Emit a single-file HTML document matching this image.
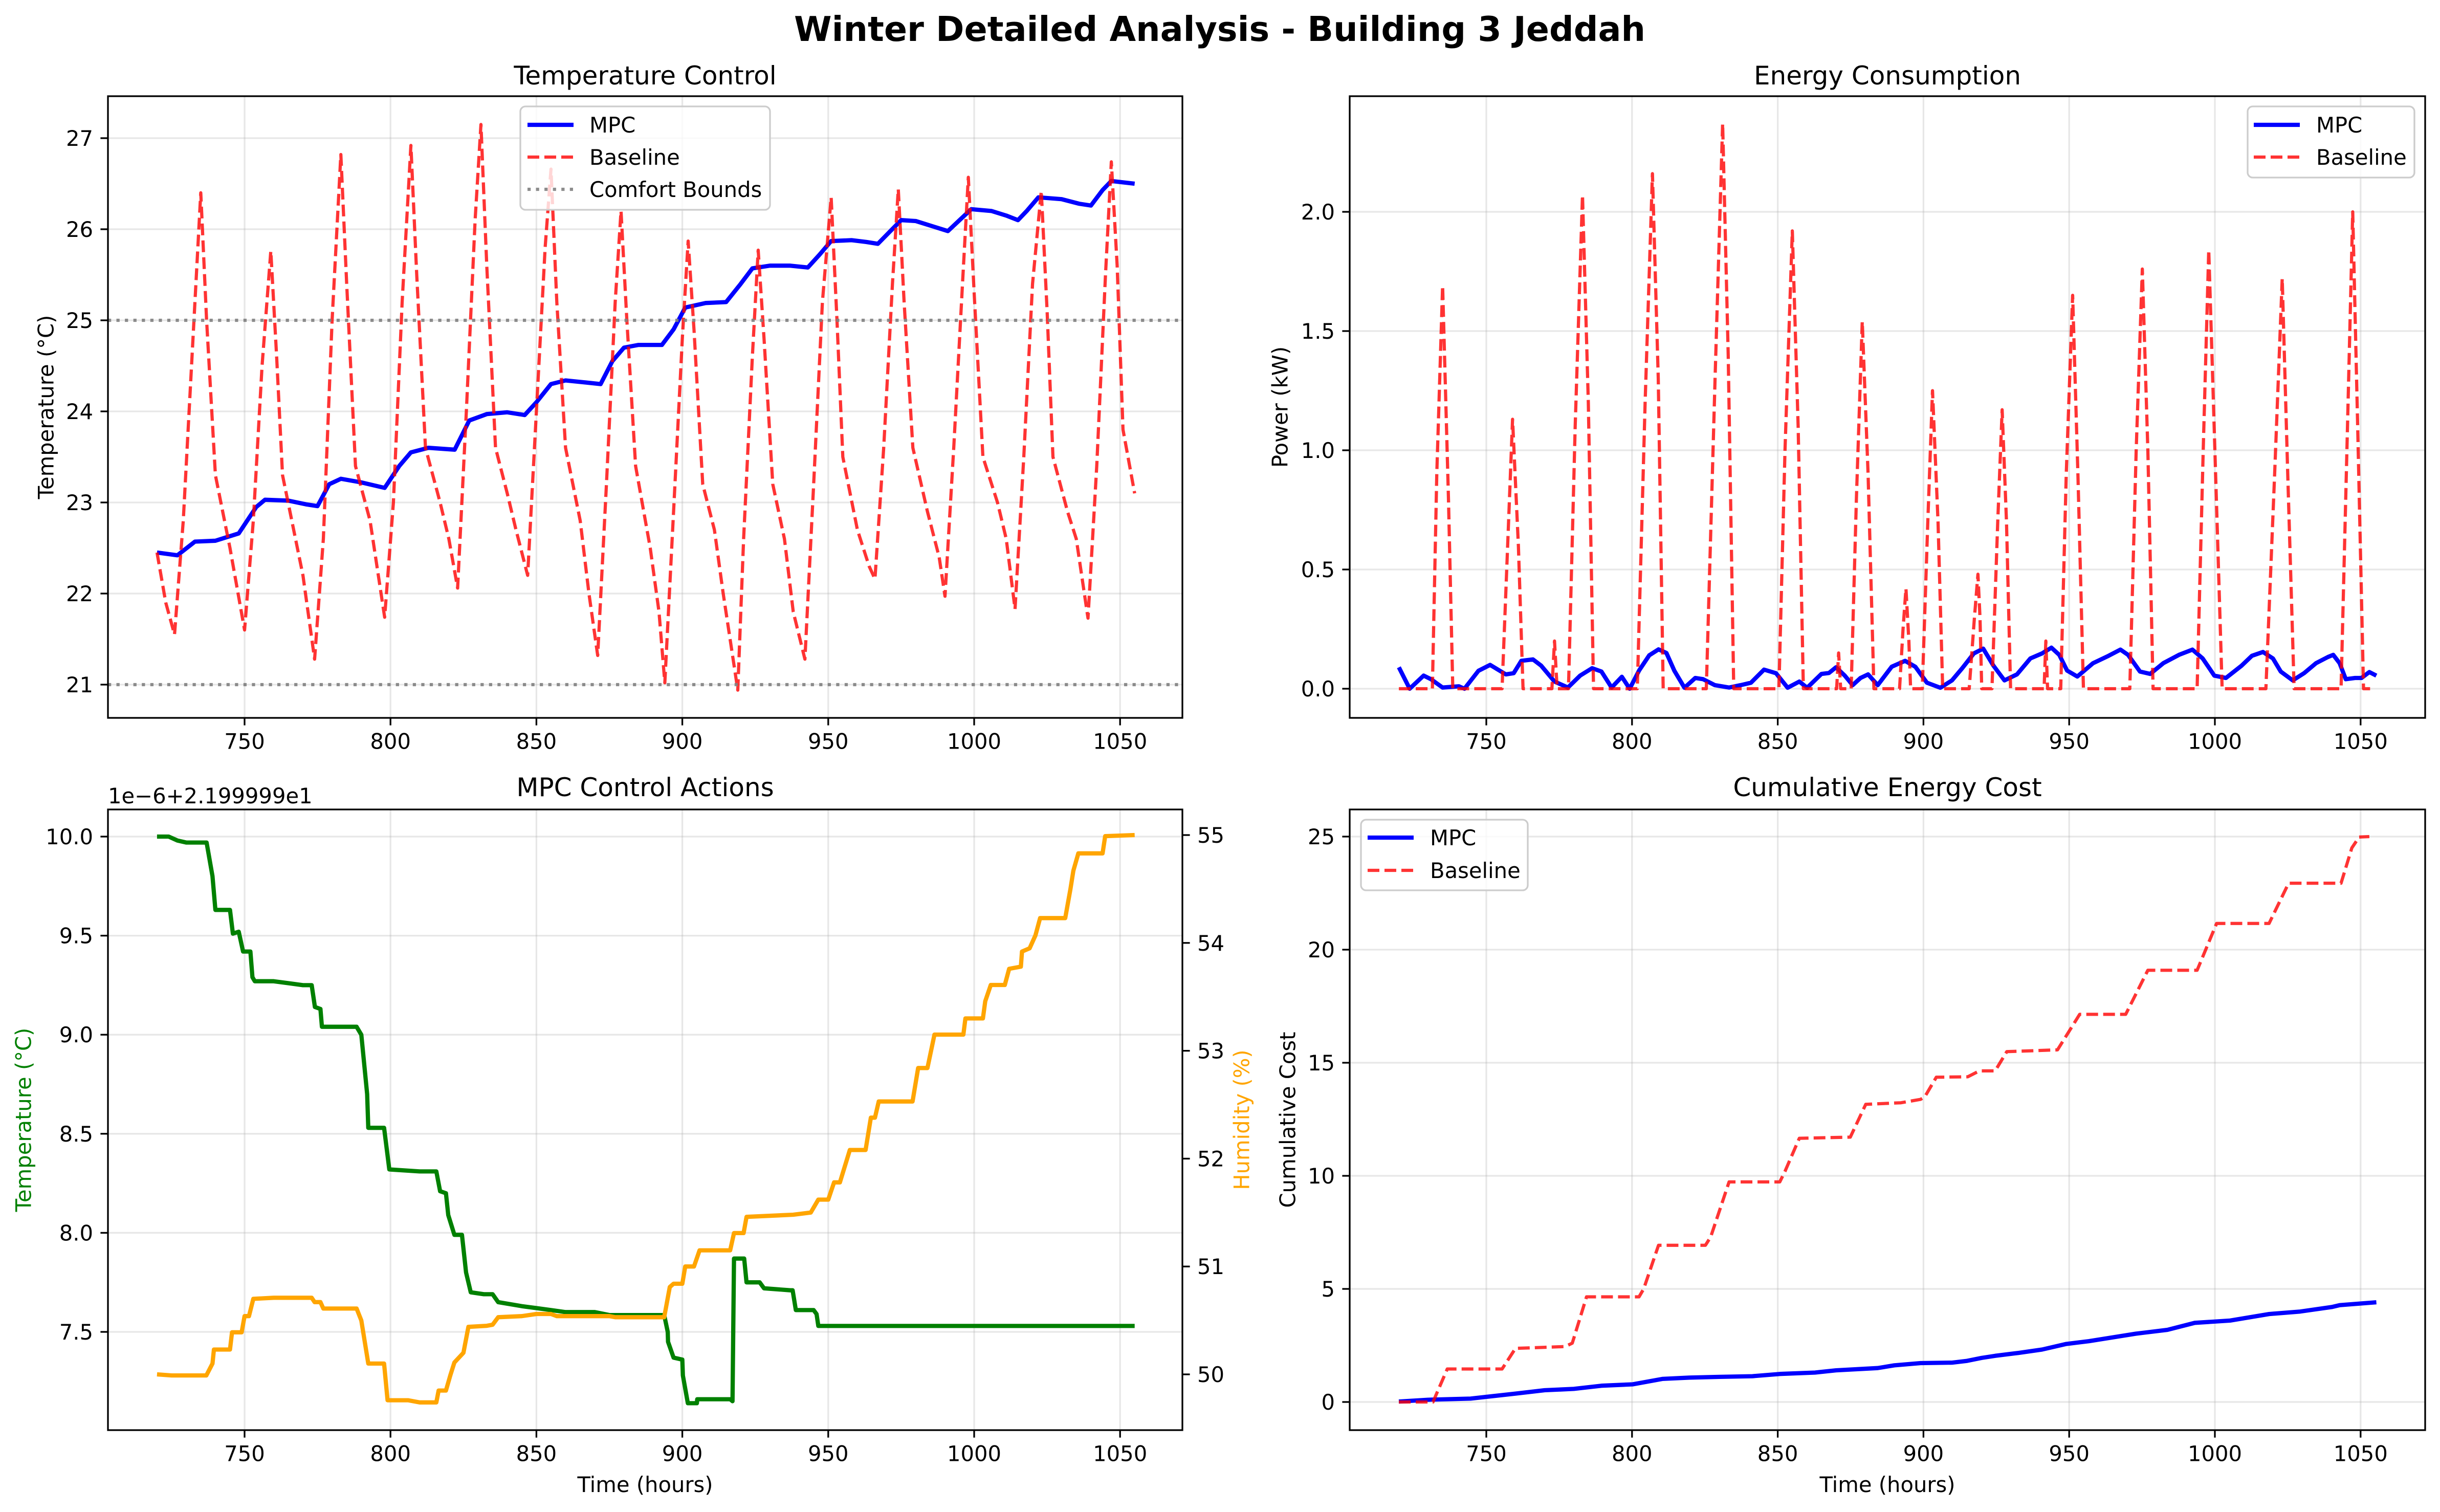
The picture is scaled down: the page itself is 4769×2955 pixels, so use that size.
<!DOCTYPE html>
<html><head><meta charset="utf-8">
<style>
html,body{margin:0;padding:0;background:#fff;}
svg{display:block;font-family:"DejaVu Sans","Liberation Sans",sans-serif;}
</style></head>
<body>
<svg id="fig" xmlns="http://www.w3.org/2000/svg" width="4769" height="2955" viewBox="0 0 4769 2955">
<rect x="0" y="0" width="4769" height="2955" fill="#fff"/>
<text x="2384" y="80" text-anchor="middle" font-size="66.7" font-weight="bold">Winter Detailed Analysis - Building 3 Jeddah</text>
</svg>
<script>
// ---------- Temperature Control ----------
const baseTempX=[720,723,726,729,732,735,737,740,745,750,753,756,759,761,763,770,774,777,780,783,785,788,793,798,801,804,807,809,812,817,820,823,826,829,831,833,836,840,843,847,850,853,855,857,860,865,868,871,874,877,879,881,884,889,892,894,897,900,902,904,907,911,914,919,921,924,926,928,931,935,938,942,945,948,951,953,955,960,964,966,969,972,974,976,979,984,988,990,993,996,998,1000,1003,1008,1011,1014,1017,1020,1023,1025,1027,1032,1035,1039,1042,1045,1047,1049,1051,1055];
const baseTempY=[22.45,21.9,21.55,22.8,24.6,26.4,25.0,23.3,22.5,21.6,22.8,24.5,25.76,24.6,23.3,22.2,21.28,22.6,25.0,26.82,25.4,23.4,22.8,21.74,23.0,25.2,26.92,25.5,23.6,23.0,22.6,22.06,24.0,26.1,27.15,25.6,23.6,23.1,22.7,22.2,24.0,25.8,26.66,25.2,23.6,22.8,22.0,21.32,23.2,25.2,26.2,25.0,23.4,22.5,21.8,21.02,22.9,24.8,25.87,24.9,23.2,22.7,22.0,20.94,22.6,24.6,25.77,24.8,23.2,22.6,21.8,21.28,23.2,25.2,26.35,25.0,23.5,22.7,22.3,22.16,23.6,25.4,26.44,25.2,23.6,22.9,22.4,21.97,23.6,25.4,26.57,25.3,23.5,23.0,22.6,21.83,23.5,25.4,26.42,25.1,23.5,22.9,22.6,21.73,23.4,25.5,26.74,25.6,23.8,23.1];
const mpcTempX=[720,727,733,740,748,754,757,765,771,775,779,783,790,798,803,807,813,822,827,833,840,846,850,855,860,866,872,876,880,885,893,897,901,908,915,920,924,930,937,943,947,951,958,963,967,971,975,980,986,991,995,999,1006,1011,1015,1018,1022,1030,1036,1040,1044,1047,1055];
const mpcTempY=[22.45,22.42,22.57,22.58,22.66,22.95,23.03,23.02,22.98,22.96,23.2,23.26,23.22,23.16,23.4,23.55,23.6,23.58,23.9,23.97,23.99,23.96,24.1,24.3,24.34,24.32,24.3,24.55,24.7,24.73,24.73,24.9,25.14,25.19,25.2,25.4,25.57,25.6,25.6,25.58,25.72,25.87,25.88,25.86,25.84,25.97,26.1,26.09,26.03,25.98,26.1,26.22,26.2,26.15,26.1,26.2,26.35,26.33,26.28,26.26,26.43,26.53,26.5];
const comfortBounds=[21,25];
const tempTicks=[21,22,23,24,25,26,27];
const hourTicks=[750,800,850,900,950,1000,1050];

// ---------- Energy Consumption ----------
const basePowX=[720,731.5,733,735,737,738.5,755.4,757,759,761,762.6,772.5,773.4,774.3,778.2,780.5,783,785,786.8,801.8,804.5,807,809,810.7,825.5,828.5,831.1,833,834.9,850.4,852.5,855,857,858.8,870.2,870.9,871.6,875.2,877,879,881,883,891.8,893,894,895,895.6,899.6,901.5,903.1,905,906.6,915.7,917.5,918.7,919.4,920,923.5,925.5,927,928.5,929.9,941.4,942,942.6,947.1,949,951.2,953,954.9,970.8,973,975.1,977,978.8,993.9,996,997.9,1000,1002.5,1017.5,1020.5,1023.1,1025,1027.2,1043.3,1045.5,1047.3,1049,1051,1055];
const basePowY=[0,0,0.9,1.69,0.8,0,0,0.5,1.13,0.6,0,0,0.2,0,0,1.1,2.07,1.2,0,0,1.2,2.16,1.3,0,0,1.3,2.37,1.4,0,0,1.0,1.92,1.1,0,0,0.15,0,0,0.8,1.54,0.9,0,0,0.25,0.42,0.2,0,0,0.7,1.25,0.7,0,0,0.3,0.48,0.3,0,0,0.7,1.17,0.7,0,0,0.2,0,0,0.9,1.65,0.9,0,0,1.0,1.76,1.0,0,0,1.0,1.84,1.0,0,0,0.9,1.72,0.9,0,0,1.1,2.0,1.1,0,0];
const mpcPowX=[720,723.7,728.5,731,735,740.6,742.5,747.3,751.3,756.7,759.4,762,766,768.8,773.4,778,782.2,786.3,789.5,793,796.5,799.2,802.4,805.9,809.1,811.8,814.5,818,821.7,824.4,828.4,833.3,837.3,840.8,845.3,849.4,853.4,857.4,860.1,865,867.6,870,873,875.7,878.4,881,884.3,889.1,893.7,897.2,901.2,905.8,909.8,913.3,917.3,920.5,924,927.8,932.1,936.7,940.7,943.9,946.6,949.3,952.8,958.2,963.5,967.6,970.2,974.3,977.8,982.3,987.7,992.3,995.8,999.8,1003.8,1009.2,1012.7,1016.5,1019.9,1022.6,1026.7,1030.7,1034.7,1038.8,1040.6,1042.8,1044.9,1048.1,1050.3,1053,1055.4];
const mpcPowY=[0.09,0.0,0.055,0.04,0.005,0.01,0.0,0.075,0.10,0.06,0.065,0.117,0.123,0.097,0.03,0.005,0.055,0.086,0.072,0.005,0.05,0.0,0.076,0.14,0.165,0.15,0.076,0.004,0.045,0.04,0.015,0.005,0.015,0.025,0.08,0.065,0.004,0.03,0.004,0.062,0.066,0.09,0.055,0.015,0.045,0.06,0.015,0.092,0.117,0.092,0.025,0.004,0.035,0.086,0.148,0.168,0.097,0.035,0.06,0.127,0.148,0.172,0.142,0.076,0.051,0.107,0.138,0.164,0.142,0.072,0.062,0.107,0.142,0.164,0.127,0.055,0.045,0.097,0.138,0.154,0.127,0.072,0.035,0.066,0.107,0.133,0.142,0.107,0.04,0.045,0.045,0.07,0.055];
const powTicks=[0,0.5,1.0,1.5,2.0];
const powLabels=["0.0","0.5","1.0","1.5","2.0"];

// ---------- MPC Control Actions ----------
const ctrlTempX=[720,724,727,730,737,739,740,745,746,748,749.5,752,752.7,753.5,760,765,770,773,774.1,776,776.5,788.4,790,792,792.4,797.8,799.6,810,815.7,817,819,819.8,821.9,824.5,825.9,827.5,832,835,836.9,845,850,855,860,870,875,893.8,895,895.1,897,900,900.2,901.9,905,905.1,916.4,917.2,917.7,921.2,922,926.5,928,937,937.8,938.9,945,946,946.6,1055];
const ctrlTempY=[10.0,10.0,9.98,9.97,9.97,9.8,9.63,9.63,9.51,9.52,9.42,9.42,9.29,9.27,9.27,9.26,9.25,9.25,9.14,9.13,9.04,9.04,9.0,8.7,8.53,8.53,8.32,8.31,8.31,8.21,8.2,8.09,7.99,7.99,7.8,7.7,7.69,7.69,7.65,7.63,7.62,7.61,7.6,7.6,7.585,7.585,7.5,7.45,7.37,7.36,7.28,7.14,7.14,7.16,7.16,7.15,7.87,7.87,7.75,7.75,7.72,7.71,7.71,7.61,7.61,7.59,7.53,7.53];
const ctrlHumX=[720,725,736.9,739,739.5,745,745.7,749,750,751.5,753,760,773,774,776,777,788.4,790,792.4,797.8,799,806,810,815.7,816.5,819,820.5,821.9,825,826.7,833,835,836.9,845,850,855,857,875,877,893.8,895.7,897,900,901,904,905.9,916.4,917.7,921,922,938,944,946.6,950,952,954,957.4,962.8,964.6,966,967.3,978.9,980.8,984,986.4,996.3,997,1003,1003.8,1005.7,1010.5,1012,1016,1016.4,1019,1021,1022.6,1031.2,1033,1034,1035.7,1044,1044.9,1055];
const ctrlHumY=[50.0,49.99,49.99,50.1,50.23,50.23,50.39,50.39,50.54,50.54,50.70,50.71,50.71,50.67,50.67,50.61,50.61,50.5,50.1,50.1,49.76,49.76,49.74,49.74,49.85,49.85,49.99,50.11,50.2,50.44,50.45,50.46,50.53,50.54,50.56,50.56,50.54,50.54,50.53,50.53,50.81,50.84,50.84,51.0,51.0,51.15,51.15,51.31,51.31,51.46,51.48,51.5,51.62,51.62,51.78,51.78,52.08,52.08,52.38,52.38,52.53,52.53,52.84,52.84,53.15,53.15,53.3,53.3,53.46,53.61,53.61,53.76,53.78,53.92,53.95,54.07,54.23,54.23,54.5,54.67,54.83,54.83,54.99,55.0];
const ctrlTempTicks=[7.5,8.0,8.5,9.0,9.5,10.0];
const ctrlTempLabels=["7.5","8.0","8.5","9.0","9.5","10.0"];
const humTicks=[50,51,52,53,54,55];

// ---------- Cumulative Energy Cost ----------
const cumBaseX=[720,731.7,736.6,755.4,760,777,779.5,784.4,802.4,804,809.1,825.2,827,833.3,850.7,852.5,857.4,874.9,880.2,892.3,899,900.5,904.4,915.2,919.2,924.6,928.6,946,953.6,969.4,977,993.9,1000.6,1018.6,1025.3,1043.3,1047,1049.5,1053];
const cumBaseY=[0,0,1.46,1.46,2.37,2.45,2.6,4.65,4.65,5.0,6.93,6.93,7.3,9.73,9.73,10.2,11.66,11.71,13.16,13.23,13.38,13.5,14.36,14.38,14.64,14.64,15.49,15.57,17.14,17.14,19.09,19.09,21.16,21.16,22.94,22.94,24.5,24.98,25.0];
const cumMpcX=[720,730,744.6,760,770,780,789.5,800.2,810.4,820,830,841.3,850.7,862.8,870,884.3,890,899,909.8,915,920,924.6,932.6,940.7,948.8,956.8,972.9,983.7,993.1,1005.2,1018.6,1029.3,1040.1,1042.8,1055.4];
const cumMpcY=[0.02,0.1,0.15,0.37,0.52,0.58,0.72,0.78,1.02,1.08,1.11,1.14,1.24,1.3,1.4,1.5,1.62,1.72,1.74,1.82,1.95,2.04,2.17,2.32,2.56,2.69,3.02,3.19,3.5,3.6,3.89,4.0,4.2,4.28,4.41];
const costTicks=[0,5,10,15,20,25];

const NS="http://www.w3.org/2000/svg";
const svg=document.getElementById('fig');
function mk(tag,attrs,parent){const e=document.createElementNS(NS,tag);for(const k in attrs)e.setAttribute(k,attrs[k]);(parent||svg).appendChild(e);return e;}

const FS=41.7;
function makeAxes(name,x0,y0,x1,y1,xScale,yScale){
  const g=mk('g',{});
  
  
  const cp=mk('clipPath',{id:'clip-'+name},g);
  mk('rect',{x:x0,y:y0,width:x1-x0,height:y1-y0},cp);
  return {g,x0,y0,x1,y1,xs:xScale,ys:yScale,clip:'url(#clip-'+name+')'};
}
function grid(ax,xt,yt){
  const gg=mk('g',{},ax.g);
  
  
  xt.forEach(v=>{const px=ax.xs(v);mk('line',{x1:px,x2:px,y1:ax.y0,y2:ax.y1,stroke:'#b0b0b0','stroke-opacity':0.3,'stroke-width':3.3},gg);});
  yt.forEach(v=>{const py=ax.ys(v);mk('line',{x1:ax.x0,x2:ax.x1,y1:py,y2:py,stroke:'#b0b0b0','stroke-opacity':0.3,'stroke-width':3.3},gg);});
}
function xTicks(ax,ticks){
  const tg=mk('g',{},ax.g);
  
  
  ticks.forEach(v=>{const px=ax.xs(v);
    mk('line',{x1:px,x2:px,y1:ax.y1,y2:ax.y1+14.6,stroke:'#000','stroke-width':3.3},tg);
    const t=mk('text',{x:px,y:ax.y1+29+FS*0.76,'text-anchor':'middle','font-size':FS},tg);t.textContent=String(v);});
}
function yTicks(ax,ticks,labels,yscale,right){
  const tg=mk('g',{},ax.g);
  
  
  ticks.forEach((v,i)=>{const py=yscale(v);
    if(right){mk('line',{x1:ax.x1,x2:ax.x1+14.6,y1:py,y2:py,stroke:'#000','stroke-width':3.3},tg);
      const t=mk('text',{x:ax.x1+29,y:py+FS*0.36,'text-anchor':'start','font-size':FS},tg);t.textContent=labels[i];}
    else{mk('line',{x1:ax.x0,x2:ax.x0-14.6,y1:py,y2:py,stroke:'#000','stroke-width':3.3},tg);
      const t=mk('text',{x:ax.x0-29,y:py+FS*0.36,'text-anchor':'end','font-size':FS},tg);t.textContent=labels[i];}});
}
function frame(ax){const r=mk('rect',{x:ax.x0,y:ax.y0,width:ax.x1-ax.x0,height:ax.y1-ax.y0,fill:'none',stroke:'#000','stroke-width':3.3},ax.g);
  }
function series(ax,xs,ys,yscale,style,name){
  let d='';xs.forEach((x,i)=>{d+=(i?'L':'M')+ax.xs(x).toFixed(1)+','+yscale(ys[i]).toFixed(1);});
  const p=mk('path',Object.assign({d,fill:'none','stroke-linejoin':'round','clip-path':ax.clip},style),ax.g);
  
  
  return p;
}
function title(ax,txt,y){const t=mk('text',{x:(ax.x0+ax.x1)/2,y:y,'text-anchor':'middle','font-size':50},ax.g);t.textContent=txt;
  }
function ylabel(ax,txt,x,color,name){const cy=(ax.y0+ax.y1)/2;const t=mk('text',{x:x,y:cy,'text-anchor':'middle','font-size':FS,fill:color||'#000',transform:'rotate(-90 '+x+' '+cy+')','dominant-baseline':'central'},ax.g);t.textContent=txt;
  }
function xlabel(ax,txt){const t=mk('text',{x:(ax.x0+ax.x1)/2,y:2916,'text-anchor':'middle','font-size':FS},ax.g);t.textContent=txt;
  }
function legend(ax,x0,y0,x1,y1,entries,lineX0,lineX1,textX,rowsY){
  const lg=mk('g',{},ax.g);
  
  
  mk('rect',{x:x0,y:y0,width:x1-x0,height:y1-y0,rx:10,fill:'#fff','fill-opacity':0.8,stroke:'#cccccc','stroke-width':3.3},lg);
  entries.forEach((e,i)=>{const y=rowsY[i];
    const eg=mk('g',{},lg);
    
    
    mk('line',Object.assign({x1:lineX0,x2:lineX1,y1:y,y2:y},e.style),eg);
    const t=mk('text',{x:textX,y:y+FS*0.36,'font-size':FS},eg);t.textContent=e.label;});
}

const styMPC={stroke:'#0000ff','stroke-width':8.3};
const styBase={stroke:'#ff0000','stroke-opacity':0.8,'stroke-width':6.25,'stroke-dasharray':'23 10'};
const styComfort={stroke:'#808080','stroke-opacity':0.9,'stroke-width':6.25,'stroke-dasharray':'6.25 10.3'};

const xsL=v=>478+(v-750)*5.704;
const xsR=v=>2905+(v-750)*5.696;

// Panel 1
const ysTL=v=>270+(27-v)*178;
const a1=makeAxes('temperature-control-panel',211,188,2311,1403,xsL,ysTL);
grid(a1,hourTicks,tempTicks);
series(a1,mpcTempX,mpcTempY,ysTL,styMPC,'mpc-temperature-line');
series(a1,baseTempX,baseTempY,ysTL,styBase,'baseline-temperature-line');
comfortBounds.forEach(v=>{const l=mk('line',Object.assign({x1:211,x2:2311,y1:ysTL(v),y2:ysTL(v)},styComfort),a1.g);
  });
frame(a1);xTicks(a1,hourTicks);yTicks(a1,tempTicks,tempTicks.map(String),ysTL,false);
title(a1,'Temperature Control',165);
ylabel(a1,'Temperature (°C)',90,'#000','y-axis-title');
legend(a1,1017,208,1505,410,[{label:'MPC',style:styMPC},{label:'Baseline',style:styBase},{label:'Comfort Bounds',style:styComfort}],1031,1121,1152,[244,307,370]);

// Panel 2
const ysTR=v=>1346-v*466;
const a2=makeAxes('energy-consumption-panel',2638,188,4740,1403,xsR,ysTR);
grid(a2,hourTicks,powTicks);
series(a2,mpcPowX,mpcPowY,ysTR,styMPC,'mpc-power-line');
series(a2,basePowX,basePowY,ysTR,styBase,'baseline-power-line');
frame(a2);xTicks(a2,hourTicks);yTicks(a2,powTicks,powLabels,ysTR,false);
title(a2,'Energy Consumption',165);
ylabel(a2,'Power (kW)',2502,'#000','y-axis-title');
legend(a2,4393,208,4719,347,[{label:'MPC',style:styMPC},{label:'Baseline',style:styBase}],4405,4495,4527,[244,307]);

// Panel 3
const ysBL=v=>1635+(10-v)*387.2;
const ysBLr=v=>2686-(v-50)*210.8;
const a3=makeAxes('mpc-control-actions-panel',211,1582,2311,2795,xsL,ysBL);
grid(a3,hourTicks,ctrlTempTicks);
series(a3,ctrlTempX,ctrlTempY,ysBL,{stroke:'#008000','stroke-width':8.3},'temperature-setpoint-line');
series(a3,ctrlHumX,ctrlHumY,ysBLr,{stroke:'#ffa500','stroke-width':8.3},'humidity-setpoint-line');
frame(a3);xTicks(a3,hourTicks);yTicks(a3,ctrlTempTicks,ctrlTempLabels,ysBL,false);
yTicks(a3,humTicks,humTicks.map(String),ysBLr,true);
title(a3,'MPC Control Actions',1556);
ylabel(a3,'Temperature (°C)',46,'#008000','y-axis-title-temperature');
ylabel(a3,'Humidity (%)',2427,'#ffa500','right-y-axis-title-humidity');
xlabel(a3,'Time (hours)');
{const t=mk('text',{x:211,y:1570,'font-size':FS},a3.g);t.textContent='1e\u22126+2.199999e1';
 }

// Panel 4
const ysBR=v=>2740-v*44.2;
const a4=makeAxes('cumulative-energy-cost-panel',2638,1582,4740,2795,xsR,ysBR);
grid(a4,hourTicks,costTicks);
series(a4,cumMpcX,cumMpcY,ysBR,styMPC,'mpc-cumulative-cost-line');
series(a4,cumBaseX,cumBaseY,ysBR,styBase,'baseline-cumulative-cost-line');
frame(a4);xTicks(a4,hourTicks);yTicks(a4,costTicks,costTicks.map(String),ysBR,false);
title(a4,'Cumulative Energy Cost',1556);
ylabel(a4,'Cumulative Cost',2517,'#000','y-axis-title');
xlabel(a4,'Time (hours)');
legend(a4,2660,1602,2986,1740,[{label:'MPC',style:styMPC},{label:'Baseline',style:styBase}],2673,2763,2795,[1637,1701]);
</script>
</body></html>
